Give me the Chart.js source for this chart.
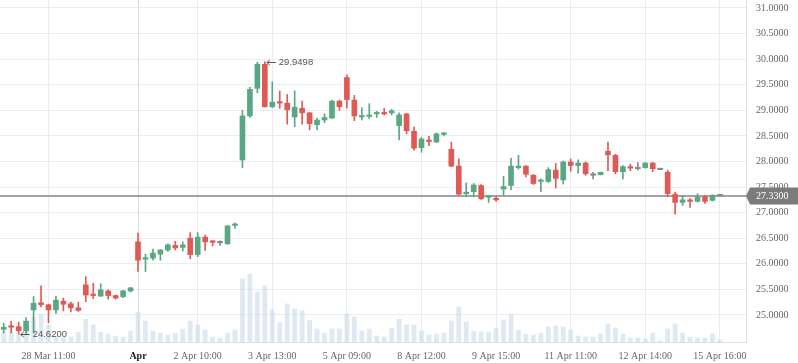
<!DOCTYPE html>
<html>
<head>
<meta charset="utf-8">
<script src="https://cdn.jsdelivr.net/npm/chart.js@4.4.1/dist/chart.umd.min.js"></script>
<style>
html, body { margin: 0; padding: 0; background: #fff; }
#wrap { width: 798px; height: 363px; position: relative; }
</style>
</head>
<body>
<div id="wrap"><canvas id="myChart"></canvas></div>
<script>
// OHLC por vela (horaria)
const opens = [
    24.72, 24.77, 24.77, 24.69, 25.10, 25.24, 25.20, 25.10, 25.27, 25.22,
    25.14, 25.59, 25.39, 25.37, 25.47, 25.38, 25.36, 25.47, 26.43, 26.09,
    26.11, 26.19, 26.27, 26.36, 26.32, 26.50, 26.18, 26.52, 26.43, 26.41,
    26.39, 26.75, 28.03, 28.89, 29.43, 29.90, 29.07, 29.16, 29.14, 28.87,
    29.04, 28.95, 28.72, 28.81, 28.85, 29.18, 29.64, 29.20, 28.87, 28.88,
    28.93, 28.95, 28.95, 28.70, 28.93, 28.59, 28.27, 28.41, 28.38, 28.53,
    28.24, 27.91, 27.37, 27.41, 27.53, 27.30, 27.28, 27.46, 27.53, 27.88,
    27.91, 27.73, 27.61, 27.61, 27.83, 27.64, 27.99, 27.92, 27.97, 27.73,
    27.74, 28.20, 28.12, 27.80, 27.89, 27.86, 27.88, 27.97, 27.84, 27.79,
    27.36, 27.20, 27.25, 27.22, 27.31, 27.24, 27.33
];
const highs = [
    24.84, 24.88, 24.86, 24.95, 25.36, 25.57, 25.21, 25.37, 25.33, 25.25,
    25.25, 25.75, 25.62, 25.61, 25.49, 25.39, 25.48, 25.54, 26.60, 26.19,
    26.29, 26.28, 26.39, 26.44, 26.43, 26.61, 26.61, 26.56, 26.46, 26.45,
    26.75, 26.80, 29.00, 29.45, 29.94, 29.9498, 29.56, 29.38, 29.31, 29.38,
    29.18, 28.96, 28.85, 28.93, 29.20, 29.20, 29.69, 29.29, 29.05, 29.13,
    28.98, 29.04, 29.02, 28.95, 28.94, 28.67, 28.47, 28.49, 28.56, 28.57,
    28.38, 28.05, 27.58, 27.57, 27.55, 27.34, 27.32, 27.71, 28.06, 28.12,
    27.92, 27.75, 27.66, 27.88, 27.96, 28.01, 28.05, 28.03, 27.99, 27.79,
    27.79, 28.38, 28.14, 27.92, 27.95, 27.98, 27.98, 27.98, 27.84, 27.83,
    27.40, 27.34, 27.28, 27.37, 27.34, 27.35, 27.33
];
const lows = [
    24.65, 24.65, 24.62, 24.64, 24.65, 25.16, 24.85, 25.03, 25.08, 25.06,
    25.07, 25.26, 25.32, 25.36, 25.31, 25.31, 25.34, 25.45, 25.85, 25.85,
    26.07, 26.07, 26.24, 26.27, 26.25, 26.10, 26.14, 26.26, 26.35, 26.36,
    26.38, 26.69, 27.88, 28.86, 29.34, 29.06, 29.05, 29.04, 28.73, 28.68,
    28.73, 28.62, 28.62, 28.76, 28.84, 29.00, 29.04, 28.80, 28.81, 28.84,
    28.86, 28.91, 28.91, 28.42, 28.54, 28.22, 28.18, 28.31, 28.37, 28.50,
    27.90, 27.34, 27.31, 27.31, 27.26, 27.20, 27.22, 27.34, 27.45, 27.85,
    27.70, 27.55, 27.41, 27.59, 27.48, 27.56, 27.81, 27.77, 27.73, 27.66,
    27.74, 27.82, 27.76, 27.66, 27.82, 27.83, 27.87, 27.80, 27.84, 27.31,
    26.97, 27.14, 27.10, 27.21, 27.18, 27.23, 27.33
];
const closes = [
    24.76, 24.76, 24.69, 24.88, 25.23, 25.20, 25.10, 25.29, 25.21, 25.14,
    25.09, 25.39, 25.38, 25.49, 25.38, 25.33, 25.47, 25.53, 26.07, 26.12,
    26.21, 26.27, 26.37, 26.31, 26.37, 26.18, 26.52, 26.43, 26.42, 26.41,
    26.74, 26.77, 28.89, 29.41, 29.90, 29.07, 29.16, 29.14, 29.01, 29.06,
    28.95, 28.74, 28.81, 28.86, 29.18, 29.07, 29.21, 28.89, 28.89, 28.89,
    28.95, 28.93, 28.99, 28.91, 28.60, 28.26, 28.44, 28.39, 28.54, 28.55,
    27.91, 27.36, 27.40, 27.54, 27.27, 27.32, 27.25, 27.51, 27.91, 27.91,
    27.75, 27.57, 27.63, 27.84, 27.67, 27.99, 27.92, 27.97, 27.76, 27.73,
    27.79, 28.13, 27.80, 27.90, 27.87, 27.86, 27.97, 27.86, 27.84, 27.37,
    27.20, 27.25, 27.22, 27.31, 27.22, 27.34, 27.33
];
const volumes = [
    1000, 1000, 700, 1200, 2500, 2800, 1700, 600, 500, 530,
    1000, 2300, 1750, 1000, 820, 620, 520, 1120, 3020, 2120,
    1120, 920, 730, 900, 1320, 2120, 1720, 1220, 520, 420,
    920, 1220, 6320, 6830, 5030, 5630, 3230, 1970, 3830, 3330,
    3130, 2170, 1330, 930, 1330, 1330, 2830, 2530, 1130, 1330,
    630, 530, 1430, 2330, 1730, 1730, 1130, 730, 830, 930,
    2130, 3530, 2030, 1130, 1030, 1030, 1430, 2230, 2830, 1230,
    830, 730, 930, 1530, 1630, 1530, 1230, 630, 530, 530,
    830, 1830, 1430, 830, 430, 430, 330, 930, 130, 1330,
    1830, 930, 530, 430, 430, 830, 230
];

// etiquetas del eje X (posición de vela -> texto)
const tickIdx = [6, 18, 26, 36, 46, 56, 66, 76, 86, 96];
const tickText = ['28 Mar 11:00', 'Apr', '2 Apr 10:00', '3 Apr 13:00', '5 Apr 09:00',
    '8 Apr 12:00', '9 Apr 15:00', '11 Apr 11:00', '12 Apr 14:00', '15 Apr 16:00'];
const yTicks = [25, 25.5, 26, 26.5, 27, 27.5, 28, 28.5, 29, 29.5, 30, 30.5, 31];
const slots = 100; // huecos en el eje (hay espacio libre a la derecha)

const GREEN = '#5aa783';
const RED = '#e05a55';
const GREY = '#8a8a8a';
const FONT = "'Liberation Serif', 'Times New Roman', serif";

Chart.defaults.font.family = FONT;
Chart.defaults.font.size = 10;

const labels = Array.from({ length: slots }, (_, i) => i);
const colors = opens.map((o, i) => closes[i] > o ? GREEN : (closes[i] < o ? RED : GREY));

// linea de ultimo precio + etiqueta + max/min
const overlay = {
    id: 'overlay',
    beforeDatasetsDraw(chart) {
        const { ctx, chartArea: a, scales: { y } } = chart;
        const py = Math.round(y.getPixelForValue(closes[closes.length - 1]));
        ctx.save();
        ctx.strokeStyle = '#858585';
        ctx.lineWidth = 1.5;
        ctx.beginPath();
        ctx.moveTo(a.left, py);
        ctx.lineTo(a.right, py);
        ctx.stroke();
        ctx.restore();
    },
    afterDraw(chart) {
        const { ctx, chartArea: a, scales: { x, y } } = chart;
        const last = closes[closes.length - 1];
        const py = Math.round(y.getPixelForValue(last));
        ctx.save();
        // etiqueta
        ctx.fillStyle = '#7b7b7b';
        ctx.beginPath();
        ctx.moveTo(a.right, py);
        ctx.lineTo(a.right + 4, py - 8.5);
        ctx.lineTo(chart.width, py - 8.5);
        ctx.lineTo(chart.width, py + 8.5);
        ctx.lineTo(a.right + 4, py + 8.5);
        ctx.closePath();
        ctx.fill();
        ctx.fillStyle = '#ffffff';
        ctx.font = '10px ' + FONT;
        ctx.textBaseline = 'middle';
        ctx.textAlign = 'left';
        ctx.fillText(last.toFixed(4), a.right + 10, py + 0.5);

        // maximo y minimo
        const hi = highs.indexOf(Math.max(...highs));
        const lo = lows.indexOf(Math.min(...lows));
        const marks = [[hi, highs[hi]], [lo, lows[lo]]];
        ctx.strokeStyle = '#555';
        ctx.fillStyle = '#555';
        ctx.lineWidth = 1;
        ctx.font = "9.5px 'Liberation Sans', Arial, sans-serif";
        marks.forEach(([i, v]) => {
            const mx = x.getPixelForValue(i) + 2;
            const my = Math.round(y.getPixelForValue(v)) + 0.5;
            ctx.beginPath();
            ctx.moveTo(mx, my);
            ctx.lineTo(mx + 9, my);
            ctx.moveTo(mx + 3, my - 2.5);
            ctx.lineTo(mx, my);
            ctx.lineTo(mx + 3, my + 2.5);
            ctx.stroke();
            ctx.fillText(v.toFixed(4), mx + 12, my);
        });
        ctx.restore();
    }
};

const ctx = document.getElementById('myChart').getContext('2d');
const myChart = new Chart(ctx, {
    type: 'bar',
    data: {
        labels: labels,
        datasets: [
            {
                label: 'Volumen',
                data: volumes,
                yAxisID: 'yv',
                backgroundColor: 'rgba(200, 219, 235, 0.6)',
                barPercentage: 0.64,
                categoryPercentage: 1,
                grouped: false,
                order: 3
            },
            {
                label: 'Mecha',
                data: lows.map((l, i) => [l, highs[i]]),
                yAxisID: 'y',
                backgroundColor: colors,
                barThickness: 1,
                grouped: false,
                order: 2
            },
            {
                label: 'Cuerpo',
                data: opens.map((o, i) => [o, closes[i]]),
                yAxisID: 'y',
                backgroundColor: colors,
                barThickness: 5,
                minBarLength: 1.5,
                grouped: false,
                order: 1
            }
        ]
    },
    options: {
        responsive: true,
        maintainAspectRatio: false,
        animation: false,
        layout: { padding: 0 },
        plugins: {
            legend: { display: false },
            tooltip: { enabled: false }
        },
        scales: {
            x: {
                offset: true,
                grid: {
                    offset: false,
                    drawTicks: false,
                    color: (c) => (c.tick && c.tick.value === 18) ? '#d8dbdf' : '#e9edf1'
                },
                border: { color: '#dde1e6' },
                ticks: {
                    autoSkip: false,
                    maxRotation: 0,
                    padding: 8,
                    callback: (v) => tickText[tickIdx.indexOf(v)],
                    color: (c) => (c.tick && c.tick.value === 18) ? '#222' : '#666',
                    font: (c) => (c.tick && c.tick.value === 18)
                        ? { family: FONT, size: 10, weight: 'bold' }
                        : { family: FONT, size: 10 }
                },
                afterBuildTicks: (ax) => { ax.ticks = tickIdx.map(v => ({ value: v })); },
                afterFit: (ax) => { ax.height = 21; ax.paddingLeft = 0; ax.paddingRight = 0; }
            },
            y: {
                position: 'right',
                min: 24.472,
                max: 31.156,
                grid: { color: '#e9edf1', drawTicks: false },
                border: { color: '#dde1e6' },
                ticks: {
                    padding: 10,
                    color: '#666',
                    callback: (v) => Number(v).toFixed(4)
                },
                afterBuildTicks: (ax) => { ax.ticks = yTicks.map(v => ({ value: v })); },
                afterFit: (ax) => { ax.width = 52; ax.paddingTop = 0; ax.paddingBottom = 0; }
            },
            yv: {
                display: false,
                min: 0,
                max: Math.max(...volumes) * 5
            }
        }
    },
    plugins: [overlay]
});
</script>
</body>
</html>
